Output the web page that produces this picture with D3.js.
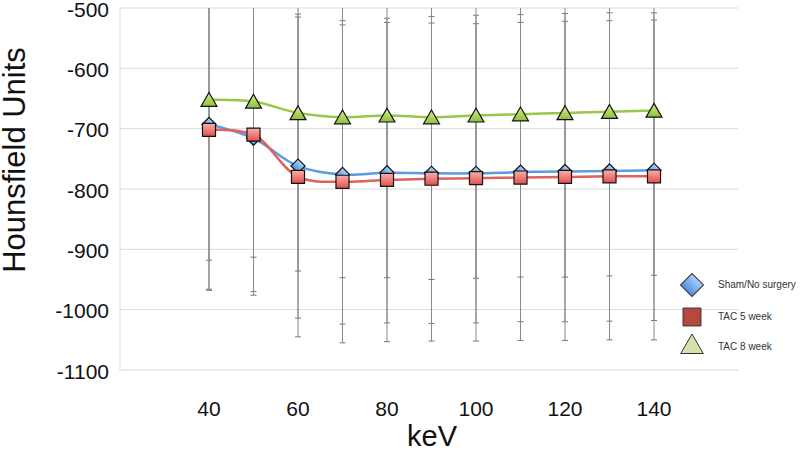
<!DOCTYPE html>
<html>
<head>
<meta charset="utf-8">
<script src="https://cdn.jsdelivr.net/npm/d3@7"></script>
<style>
  body { margin: 0; background: #fff; }
  text { font-family: "Liberation Sans", Arial, sans-serif; fill: #111; }
</style>
</head>
<body>
<div id="chart"></div>
<script>
// keV steps
var kev = [40, 50, 60, 70, 80, 90, 100, 110, 120, 130, 140];

// mean Hounsfield units per series
var shamMean = [-693, -716, -762, -776, -773, -774, -774, -772, -771, -770, -769];
var tac5Mean = [-702, -710, -780, -788, -785, -783, -782, -781, -780, -779, -779];
var tac8Mean = [-652, -655, -674, -681, -678, -681, -678, -676, -674, -672, -670];

// standard deviations (error bars)
var shamSd = [273, 254, 252, 248, 249, 249, 248, 248, 249, 249, 249];
var tac5Sd = [266, 266, 265, 267, 268, 269, 270, 270, 271, 271, 271];
var tac8Sd = [266, 258, 262, 266, 269, 269, 270, 270, 272, 272, 273];

var seriesNames = ["Sham/No surgery", "TAC 5 week", "TAC 8 week"];
var yTicks = [-500, -600, -700, -800, -900, -1000, -1100];
var xTicks = [40, 60, 80, 100, 120, 140];

var width = 800, height = 452;

var x = d3.scaleLinear().domain([20, 160]).range([120, 743]);
var y = d3.scaleLinear().domain([-1100, -500]).range([370, 8]);

var svg = d3.select("#chart").append("svg")
  .attr("width", width)
  .attr("height", height);

var defs = svg.append("defs");
function grad(id, top, bottom) {
  var g = defs.append("linearGradient").attr("id", id)
    .attr("x1", 0).attr("y1", 0).attr("x2", 0).attr("y2", 1);
  g.append("stop").attr("offset", "0%").attr("stop-color", top);
  g.append("stop").attr("offset", "100%").attr("stop-color", bottom);
}
grad("gBlue", "#a9d0f7", "#4f8fdc");
grad("gRed", "#f8b0ac", "#e2504c");
grad("gGreen", "#d6ec8c", "#8fc03a");

defs.append("clipPath").attr("id", "plotClip")
  .append("rect").attr("x", 100).attr("y", 8).attr("width", 660).attr("height", 380);

// gridlines
svg.append("g").selectAll("line")
  .data(yTicks)
  .enter().append("line")
  .attr("x1", 120).attr("x2", 738)
  .attr("y1", function(d) { return y(d); })
  .attr("y2", function(d) { return y(d); })
  .attr("stroke", "#d9d9d9")
  .attr("stroke-width", 1);

svg.append("line")
  .attr("x1", 120).attr("x2", 120)
  .attr("y1", y(-500)).attr("y2", y(-1100))
  .attr("stroke", "#d9d9d9");

// y tick labels
svg.append("g").selectAll("text")
  .data(yTicks)
  .enter().append("text")
  .attr("x", 109)
  .attr("y", function(d) { return y(d) + 3; })
  .attr("text-anchor", "end")
  .attr("dominant-baseline", "middle")
  .style("font-size", "21px")
  .text(function(d) { return d; });

// x tick labels
svg.append("g").selectAll("text")
  .data(xTicks)
  .enter().append("text")
  .attr("x", function(d) { return x(d); })
  .attr("y", 410)
  .attr("text-anchor", "middle")
  .attr("dominant-baseline", "middle")
  .style("font-size", "21px")
  .text(function(d) { return d; });

// axis titles
svg.append("text")
  .attr("transform", "translate(17,160) rotate(-90)")
  .attr("text-anchor", "middle")
  .attr("dominant-baseline", "middle")
  .style("font-size", "31px")
  .text("Hounsfield Units");

svg.append("text")
  .attr("x", 432).attr("y", 438)
  .attr("text-anchor", "middle")
  .attr("dominant-baseline", "middle")
  .style("font-size", "29px")
  .text("keV");

var series = [
  { name: seriesNames[0], mean: shamMean, sd: shamSd, color: "#5b9be0", fill: "url(#gBlue)", shape: d3.symbolSquare, rot: 45 },
  { name: seriesNames[1], mean: tac5Mean, sd: tac5Sd, color: "#e0605c", fill: "url(#gRed)", shape: d3.symbolSquare, rot: 0 },
  { name: seriesNames[2], mean: tac8Mean, sd: tac8Sd, color: "#9cc64a", fill: "url(#gGreen)", shape: d3.symbolTriangle, rot: 0 }
];

// error bars
var eb = svg.append("g").attr("clip-path", "url(#plotClip)");
series.forEach(function(s) {
  kev.forEach(function(k, i) {
    var hi = s.mean[i] + s.sd[i], lo = s.mean[i] - s.sd[i];
    eb.append("line")
      .attr("x1", x(k)).attr("x2", x(k))
      .attr("y1", y(hi)).attr("y2", y(lo))
      .attr("stroke", "#8a8a8a").attr("stroke-width", 1);
    [hi, lo].forEach(function(v) {
      eb.append("line")
        .attr("x1", x(k) - 3).attr("x2", x(k) + 3)
        .attr("y1", y(v)).attr("y2", y(v))
        .attr("stroke", "#777").attr("stroke-width", 1);
    });
  });
});

// smoothed lines
var line = d3.line()
  .x(function(d) { return x(d[0]); })
  .y(function(d) { return y(d[1]); })
  .curve(d3.curveCatmullRom.alpha(0.5));

series.forEach(function(s) {
  svg.append("path")
    .datum(kev.map(function(k, i) { return [k, s.mean[i]]; }))
    .attr("fill", "none")
    .attr("stroke", s.color)
    .attr("stroke-width", 2.5)
    .attr("d", line);
});

// markers
var sizes = [100, 170, 110];
series.forEach(function(s, j) {
  svg.append("g").selectAll("path")
    .data(kev)
    .enter().append("path")
    .attr("transform", function(k, i) {
      var dy = j == 2 ? 2 : 0;
      return "translate(" + x(k) + "," + (y(s.mean[i]) + dy) + ") rotate(" + s.rot + ")";
    })
    .attr("d", d3.symbol().type(s.shape).size(sizes[j]))
    .attr("fill", s.fill)
    .attr("stroke", "#111")
    .attr("stroke-width", 1.2);
});

// legend
var legend = [
  { y: 285, shape: d3.symbolSquare, rot: 45, size: 265, fill: "url(#gBlue)" },
  { y: 317, shape: d3.symbolSquare, rot: 0, size: 320, fill: "#b5483f" },
  { y: 347, shape: d3.symbolTriangle, rot: 0, size: 220, fill: "#d3e2ab" }
];
legend.forEach(function(l, i) {
  svg.append("path")
    .attr("transform", "translate(692," + l.y + ") rotate(" + l.rot + ")")
    .attr("d", d3.symbol().type(l.shape).size(l.size))
    .attr("fill", l.fill)
    .attr("stroke", "#333")
    .attr("stroke-width", 1);
  svg.append("text")
    .attr("x", 718).attr("y", l.y)
    .attr("dominant-baseline", "middle")
    .style("font-size", "10px")
    .style("fill", "#333")
    .text(seriesNames[i]);
});
</script>
</body>
</html>
